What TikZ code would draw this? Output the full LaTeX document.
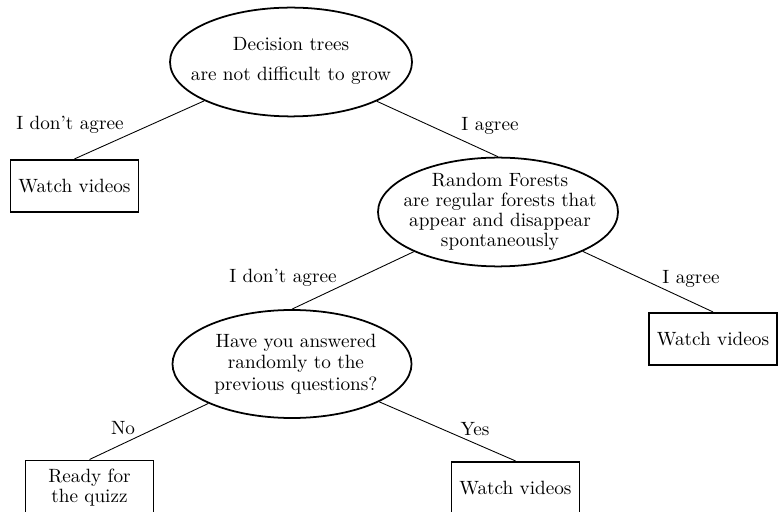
\documentclass[tikz,border=0pt]{standalone}
\usetikzlibrary{shapes.geometric}
\begin{document}
\begin{tikzpicture}[x=0.625pt,y=-0.625pt,
  txt/.style={scale=1.2, font=\fontsize{10}{10.4}\selectfont, align=center, inner sep=0pt},
  oval/.style={ellipse, draw, line width=1.1pt, inner sep=0pt},
  leaf/.style={scale=1.2, draw, line width=1.1pt, font=\fontsize{10}{10.4}\selectfont, align=center,
    inner xsep=3.3pt, inner ysep=4.6pt, minimum width=66.7pt, minimum height=27.1pt},
  lbl/.style={scale=1.2, font=\fontsize{10}{10.4}\selectfont, inner sep=0pt},
  edge/.style={line width=0.55pt}]
\useasboundingbox (0,0) rectangle (778,512);
\clip (0,0) rectangle (778,512);

% ellipses
\node[oval, minimum width=151.25pt, minimum height=68pt] (root) at (291,62) {};
\node[txt] (roott) at (291,61) {Decision trees\\[5.2pt]are not difficult to grow};

\node[oval, minimum width=150pt, minimum height=68pt] (rf) at (498,212) {};
\node[txt] (rft) at (500,212) {Random Forests\\are regular forests that\\appear and disappear\\spontaneously};

\node[oval, minimum width=149.4pt, minimum height=67.5pt] (q) at (292,364) {};
\node[txt, font=\fontsize{10}{11.2}\selectfont] (qt) at (296,364) {Have you answered\\randomly to the\hspace*{3.3pt}\\previous questions?};

% leaves
\node[leaf] (l1) at (74.5,186) {Watch videos};
\node[leaf] (l2) at (713,339) {Watch videos};
\node[leaf] (l3) at (89.5,488) {Ready for\\the quizz};
\node[leaf] (l4) at (515.5,488) {Watch videos};

% edges
\draw[edge] (root) -- (l1.north);
\draw[edge] (root) -- (rf.north);
\draw[edge] (rf) -- (l2.north);
\draw[edge] (rf) -- (q.north);
\draw[edge] (q) -- (l3.north);
\draw[edge] (q) -- (l4.north);

% labels
\node[lbl] (a1) at (70,125) {I don't agree};
\node[lbl] (a2) at (490,126) {I agree};
\node[lbl] (a3) at (283,278) {I don't agree};
\node[lbl] (a4) at (691,279) {I agree};
\node[lbl] (a5) at (123,428) {No};
\node[lbl] (a6) at (475,429) {Yes};
\end{tikzpicture}
\end{document}
